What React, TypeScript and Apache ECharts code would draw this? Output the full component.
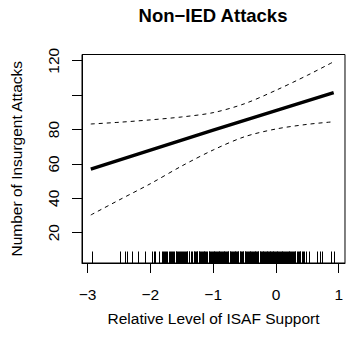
import React, { useEffect, useRef } from "react";
import * as echarts from "echarts";

// ---- data ----
const TITLE = "Non\u2212IED Attacks";
const X_NAME = "Relative Level of ISAF Support";
const Y_NAME = "Number of Insurgent Attacks";

const xTicks = [-3, -2, -1, 0, 1];
const yTicks = [20, 40, 60, 80, 100, 120];
const yTickLabels = [20, 40, 60, 80, 120];

const fitX = [-2.95, -1.0, 0.92];
const fitY = [57, 79.7, 101.4];

const bandX = [-2.95, -2.5, -2.0, -1.5, -1.0, -0.5, 0, 0.5, 0.92];
const upperY = [83.2, 84.2, 85.6, 87.3, 89.8, 95.0, 102.8, 111.5, 119.4];
const lowerY = [30.3, 39.0, 48.5, 58.8, 68.1, 75.8, 80.3, 83.0, 84.5];

const rugX = [
  -2.93, -2.48, -2.4, -2.37, -2.3, -2.2, -2.09, -1.97, -1.95, -1.92, -1.86,
  -1.82, -1.8, -1.79, -1.77, -1.75, -1.73, -1.71, -1.69, -1.68, -1.66, -1.64,
  -1.62, -1.6, -1.59, -1.58, -1.56, -1.55, -1.53, -1.51, -1.5, -1.48, -1.46,
  -1.45, -1.43, -1.42, -1.41, -1.39, -1.38, -1.36, -1.34, -1.31, -1.3, -1.29,
  -1.27, -1.26, -1.25, -1.23, -1.22, -1.21, -1.19, -1.18, -1.17, -1.15, -1.14,
  -1.13, -1.11, -1.1, -1.07, -1.06, -1.05, -1.03, -1.02, -1.01, -0.99, -0.98,
  -0.97, -0.96, -0.94, -0.93, -0.91, -0.9, -0.89, -0.88, -0.86, -0.85, -0.83,
  -0.82, -0.81, -0.79, -0.78, -0.77, -0.76, -0.74, -0.73, -0.71, -0.7, -0.69,
  -0.67, -0.66, -0.65, -0.63, -0.62, -0.61, -0.6, -0.58, -0.57, -0.55, -0.54,
  -0.53, -0.52, -0.5, -0.49, -0.47, -0.46, -0.45, -0.43, -0.42, -0.41, -0.39,
  -0.38, -0.37, -0.35, -0.34, -0.33, -0.31, -0.3, -0.29, -0.28, -0.26, -0.25,
  -0.24, -0.23, -0.21, -0.2, -0.19, -0.18, -0.16, -0.15, -0.14, -0.13, -0.11,
  -0.1, -0.09, -0.08, -0.06, -0.05, -0.04, -0.03, -0.01, 0.0, 0.01, 0.02, 0.04,
  0.05, 0.06, 0.08, 0.09, 0.1, 0.12, 0.13, 0.14, 0.16, 0.17, 0.19, 0.2, 0.21,
  0.23, 0.24, 0.26, 0.27, 0.28, 0.3, 0.31, 0.33, 0.35, 0.36, 0.38, 0.39, 0.42,
  0.43, 0.44, 0.48, 0.53, 0.66, 0.7, 0.74, 0.885, 0.92,
];

const X_MIN = -3.09;
const X_MAX = 1.1;
const Y_MIN = 2.4;
const Y_MAX = 123.6;

const FONT = "Liberation Sans, Arial, Helvetica, sans-serif";

const fmtX = (v: number) => (v < 0 ? "\u2212" + Math.abs(v) : String(v));

export default function App() {
  const ref = useRef<HTMLDivElement>(null);

  useEffect(() => {
    if (!ref.current) return;
    const chart = echarts.init(ref.current, null, { renderer: "svg" });

    const option: any = {
      animation: false,
      backgroundColor: "#ffffff",
      textStyle: { fontFamily: FONT },
      title: {
        text: TITLE,
        left: 213,
        top: 6,
        padding: 0,
        textAlign: "center",
        textStyle: { fontFamily: FONT, fontWeight: "bold", fontSize: 18.5, color: "#000" },
      },
      grid: {
        left: 81,
        top: 54.5,
        width: 268.7,
        height: 208.5,
        show: true,
        borderColor: "#000",
        borderWidth: 1,
        backgroundColor: "transparent",
      },
      xAxis: {
        type: "value",
        min: X_MIN,
        max: X_MAX,
        name: X_NAME,
        nameLocation: "middle",
        nameGap: 47,
        nameTextStyle: { fontFamily: FONT, fontSize: 15.5, color: "#000" },
        axisLine: { show: true, onZero: false, lineStyle: { color: "#000", width: 1 } },
        axisTick: { show: true, customValues: xTicks, length: 10, lineStyle: { color: "#000", width: 1 } },
        axisLabel: {
          customValues: xTicks,
          formatter: fmtX,
          margin: 23,
          fontFamily: FONT,
          fontSize: 15.5,
          color: "#000",
        },
        splitLine: { show: false },
      },
      yAxis: {
        type: "value",
        min: Y_MIN,
        max: Y_MAX,
        name: Y_NAME,
        nameLocation: "middle",
        nameRotate: 90,
        nameGap: 58,
        nameTextStyle: { fontFamily: FONT, fontSize: 15.5, color: "#000" },
        axisLine: { show: true, onZero: false, lineStyle: { color: "#000", width: 1 } },
        axisTick: { show: true, customValues: yTicks, length: 10, lineStyle: { color: "#000", width: 1 } },
        axisLabel: {
          customValues: yTickLabels,
          rotate: 90,
          margin: 21,
          fontFamily: FONT,
          fontSize: 15.5,
          color: "#000",
        },
        splitLine: { show: false },
      },
      series: [
        {
          type: "line",
          data: fitX.map((x, i) => [x, fitY[i]]),
          showSymbol: false,
          lineStyle: { color: "#000", width: 3.4 },
        },
        {
          type: "line",
          data: bandX.map((x, i) => [x, upperY[i]]),
          showSymbol: false,
          smooth: 0.3,
          lineStyle: { color: "#000", width: 1, type: [4, 4] },
        },
        {
          type: "line",
          data: bandX.map((x, i) => [x, lowerY[i]]),
          showSymbol: false,
          smooth: 0.3,
          lineStyle: { color: "#000", width: 1, type: [4, 4] },
        },
        {
          type: "custom",
          data: rugX.map((x) => [x, Y_MIN]),
          renderItem: (params: any, api: any) => {
            const p = api.coord([api.value(0), api.value(1)]);
            const px = Math.round(p[0]) + 0.5;
            return {
              type: "line",
              shape: { x1: px, y1: p[1], x2: px, y2: p[1] - 11.5 },
              style: { stroke: "#000", lineWidth: 1 },
            };
          },
        },
      ],
    };

    chart.setOption(option);
    return () => chart.dispose();
  }, []);

  return (
    <div
      ref={ref}
      style={{ position: "fixed", left: 0, top: 0, width: 346, height: 339, background: "#fff" }}
    />
  );
}
